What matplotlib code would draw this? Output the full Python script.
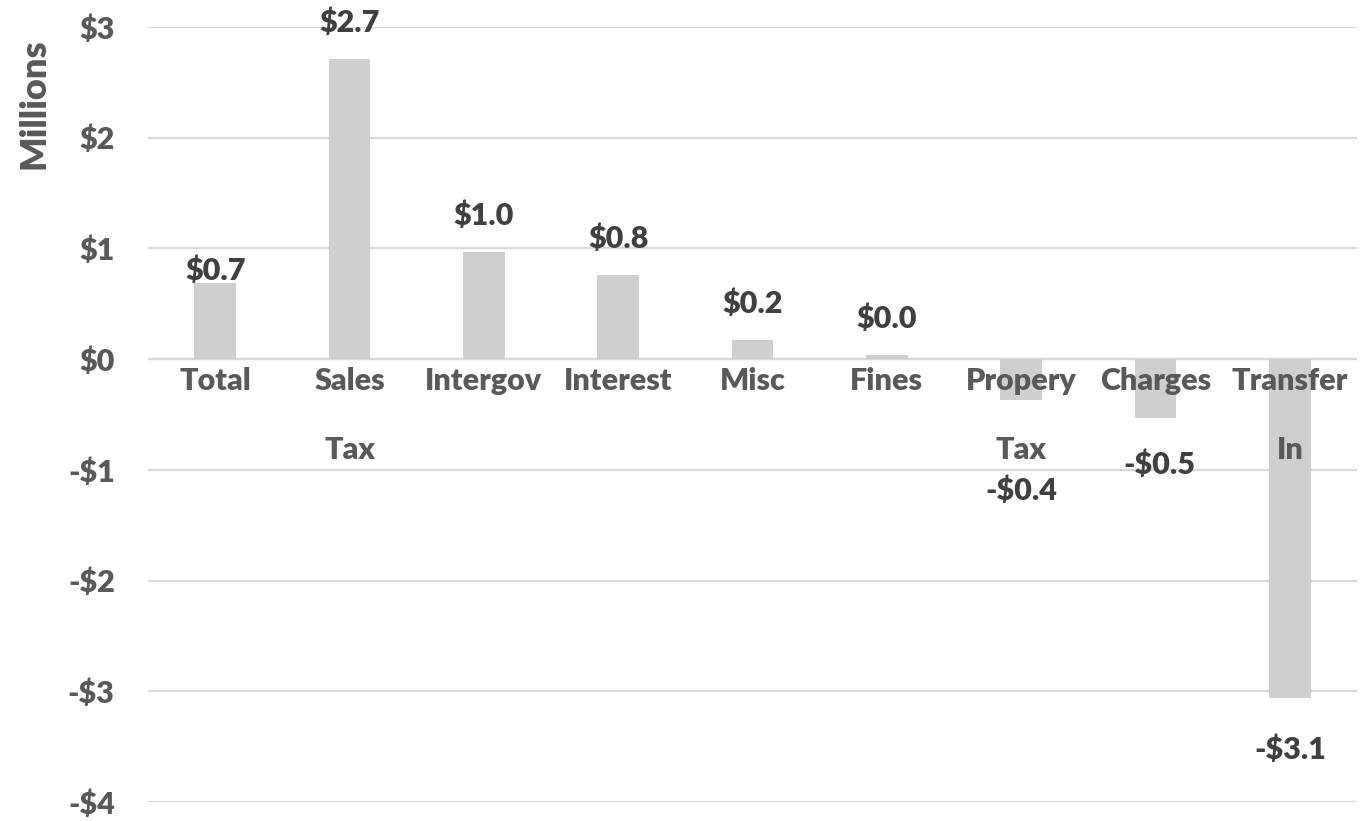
import matplotlib
matplotlib.use("Agg")
import matplotlib.pyplot as plt

categories = ["Total", "Sales\nTax", "Intergov", "Interest", "Misc", "Fines",
              "Propery\nTax", "Charges", "Transfer\nIn"]
values = [0.69, 2.71, 0.97, 0.76, 0.17, 0.04, -0.37, -0.53, -3.06]
yticks = [3, 2, 1, 0, -1, -2, -3, -4]

# label offsets (points) from the bar end; Excel nudged a few to avoid overlaps
label_offsets = [9, 26, 26, 26, 26, 26, 65, 34, 37]
label_dx = [0, 0, 0, 0, 0, 0, 0, 3, 0]

plt.rcParams['font.family'] = ['Lato', 'DejaVu Sans']
WT = 800
FS = 22

fig = plt.figure(figsize=(13.67, 8.21), dpi=100)
ax = fig.add_axes([0.1083, 0.0231, 0.8844, 0.9440])

x = list(range(len(categories)))
ax.bar(x, values, width=0.31, color="#d0cece", zorder=2)

ax.set_ylim(-4, 3)
ax.set_xlim(-0.5, len(categories) - 0.5)
ax.set_yticks(yticks)
ax.set_yticklabels([("-$%d" % -v) if v < 0 else ("$%d" % v) for v in yticks],
                   fontsize=FS, fontweight=WT, color="#595959")
ax.tick_params(axis='y', length=0, pad=24)
ax.set_xticks([])
ax.grid(axis='y', color="#d9d9d9", linewidth=1.6, zorder=0)
for s in ax.spines.values():
    s.set_visible(False)
ax.axhline(0, color="#d9d9d9", linewidth=1.6, zorder=1)

# category names just under the zero line
for i, c in enumerate(categories):
    ax.annotate(c, (i, 0), xytext=(0, -6), textcoords="offset points",
                ha="center", va="top", fontsize=FS, fontweight=WT,
                color="#595959", linespacing=2.78, zorder=4)

# value labels
for i, v in enumerate(values):
    txt = ("-$%.1f" % -v) if v < 0 else ("$%.1f" % v)
    off = label_offsets[i] if v >= 0 else -label_offsets[i]
    ax.annotate(txt, (i, v), xytext=(label_dx[i], off), textcoords="offset points",
                ha="center", va="center", fontsize=FS, fontweight=WT,
                color="#404040", zorder=5)

fig.text(34 / 1367, 1 - 104 / 821, "Millions", rotation=90, ha="center", va="center",
         fontsize=26, fontweight=WT, color="#595959")

fig.savefig("out.png", dpi=100)
